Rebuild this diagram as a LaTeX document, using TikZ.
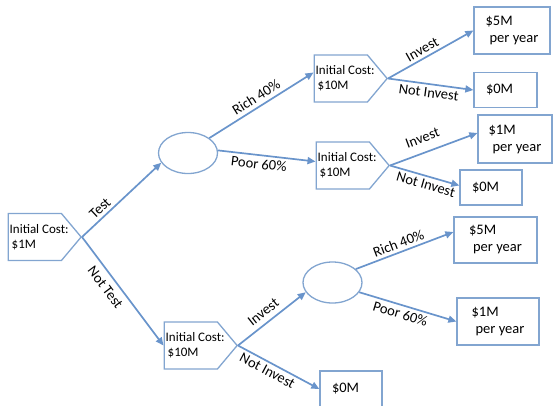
\documentclass[tikz,border=0pt]{standalone}
\usepackage{fontspec}
\setmainfont{Carlito}
\usetikzlibrary{arrows.meta, shapes.symbols, shapes.geometric}
\definecolor{boxline}{RGB}{130,165,208}
\definecolor{arrowblue}{RGB}{105,148,203}

\tikzset{
    decision/.style={signal, signal to=east, signal pointer angle=100, draw=boxline, line width=1.3pt, minimum width=73pt, minimum height=47pt, inner sep=0pt, anchor=east},
    costtext/.style={anchor=west, align=left, inner sep=2pt, font=\fontsize{13}{15}\selectfont},
    chance/.style={ellipse, draw=boxline, line width=1.3pt, minimum width=59pt, minimum height=41pt, inner sep=0pt},
    payoff/.style={rectangle, draw=boxline, line width=1.3pt, align=left, inner sep=0pt, font=\fontsize{14.5}{17}\selectfont},
    nothing/.style={payoff, text width=38pt, inner xsep=12pt, minimum height=35pt},
    branch/.style={draw=arrowblue, line width=1.7pt, -{Triangle[length=8pt, width=7pt]}},
    choice/.style={sloped, inner sep=3pt, font=\fontsize{14.5}{17}\selectfont}
}

\begin{document}
\begin{tikzpicture}[x=1pt, y=-1pt]
    \useasboundingbox (0,0) rectangle (554,405);
    \node[decision, label={[costtext]west:{Initial Cost:\\\hspace{2pt}\$1M}}] (root) at (82,237) {};
    \node[chance] (testchance) at (188,153) {};
    \node[decision, label={[costtext]west:{Initial Cost:\\\hspace{2pt}\$10M}}] (richcost) at (388,78.5) {};
    \node[decision, label={[costtext]west:{Initial Cost:\\\hspace{2pt}\$10M}}] (poorcost) at (390,165.5) {};
    \node[decision, label={[costtext]west:{Initial Cost:\\\hspace{2pt}\$10M}}] (notestcost) at (238,345.5) {};
    \node[chance] (investchance) at (332.5,282.5) {};
    \node[payoff, minimum width=76pt, minimum height=47pt] (richyes) at (512,30.5) {\$5M\\\hspace{4pt}per year};
    \node[nothing, text width=39pt] (richno) at (505.5,90) {\$0M};
    \node[payoff, minimum width=74pt, minimum height=48pt] (pooryes) at (515,139) {\$1M\\\hspace{4pt}per year};
    \node[nothing] (poorno) at (491,187.5) {\$0M};
    \node[payoff, minimum width=83pt, minimum height=46pt] (bigpay) at (495.5,240) {\$5M\\\hspace{4pt}per year};
    \node[payoff, minimum width=82pt, minimum height=47pt] (smallpay) at (498,321.5) {\$1M\\\hspace{4pt}per year};
    \node[nothing, minimum height=36pt] (nopay) at (351,389) {\$0M};

    \draw[branch] (root.east) -- node[choice, above, pos=0.3] {Test} (testchance.200);
    \draw[branch] (root.east) -- node[choice, below, pos=0.4, inner sep=6pt] {Not Test} (notestcost.west);
    \draw[branch] (testchance.35) -- node[choice, above, pos=0.5, inner sep=4pt] {Rich 40\%} ([yshift=6pt]richcost.west);
    \draw[branch] (testchance.5) -- node[choice, below, pos=0.43] {Poor 60\%} ([yshift=4pt]poorcost.west);
    \draw[branch] (richcost.east) -- node[choice, above, pos=0.45] {Invest} (richyes.west);
    \draw[branch] (richcost.east) -- node[choice, below, pos=0.49] {Not Invest} (richno.west);
    \draw[branch] (poorcost.east) -- node[choice, above, pos=0.43, inner sep=9pt] {Invest} ([yshift=6pt]pooryes.west);
    \draw[branch] (poorcost.east) -- node[choice, below, pos=0.55] {Not Invest} ([yshift=2pt]poorno.west);
    \draw[branch] (notestcost.east) -- node[choice, above, pos=0.47, inner sep=5pt] {Invest} (investchance.200);
    \draw[branch] (notestcost.east) -- node[choice, below, pos=0.41] {Not Invest} (nopay.west);
    \draw[branch] (investchance.30) -- node[choice, above, pos=0.47] {Rich 40\%} ([yshift=8pt]bigpay.west);
    \draw[branch] (investchance.-20) -- node[choice, below, pos=0.45] {Poor 60\%} (smallpay.west);
\end{tikzpicture}
\end{document}
